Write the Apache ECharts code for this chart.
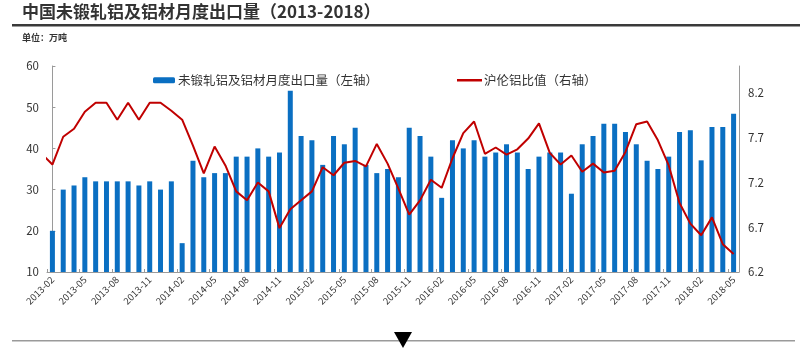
<!DOCTYPE html>
<html>
<head>
<meta charset="utf-8">
<script src="https://cdn.jsdelivr.net/npm/echarts@6/dist/echarts.min.js"></script>
<style>
  html, body { margin: 0; padding: 0; background: #fff; }
  #chart { width: 800px; height: 352px; }
</style>
</head>
<body>
<div id="chart"></div>
<script>
// 月份 2013-02 ~ 2018-05
const months = [
  '2013-02', '2013-03', '2013-04', '2013-05', '2013-06', '2013-07', '2013-08', '2013-09', '2013-10', '2013-11', '2013-12',
  '2014-01', '2014-02', '2014-03', '2014-04', '2014-05', '2014-06', '2014-07', '2014-08', '2014-09', '2014-10', '2014-11', '2014-12',
  '2015-01', '2015-02', '2015-03', '2015-04', '2015-05', '2015-06', '2015-07', '2015-08', '2015-09', '2015-10', '2015-11', '2015-12',
  '2016-01', '2016-02', '2016-03', '2016-04', '2016-05', '2016-06', '2016-07', '2016-08', '2016-09', '2016-10', '2016-11', '2016-12',
  '2017-01', '2017-02', '2017-03', '2017-04', '2017-05', '2017-06', '2017-07', '2017-08', '2017-09', '2017-10', '2017-11', '2017-12',
  '2018-01', '2018-02', '2018-03', '2018-04', '2018-05'
]
// 出口量（万吨，左轴）
const exportVolume = [
  20, 30, 31, 33, 32, 32, 32, 32, 31, 32, 30,
  32, 17, 37, 33, 34, 34, 38, 38, 40, 38, 39, 54,
  43, 42, 36, 43, 41, 45, 36, 34, 35, 33, 45, 43,
  38, 28, 42, 40, 42, 38, 39, 41, 39, 35, 38, 39,
  39, 29, 41, 43, 46, 46, 44, 41, 37, 35, 38, 44,
  44.4, 37.1, 45.2, 45.2, 48.4
]
// 沪伦铝比值（右轴），首个值为 2013-01，仅露出一小段
const ratioStart = 7.52
const ratio = [
  7.40, 7.71, 7.80, 7.99, 8.09, 8.09, 7.90, 8.09, 7.90, 8.09, 8.09,
  8.00, 7.90, 7.61, 7.30, 7.60, 7.39, 7.10, 7.00, 7.20, 7.10, 6.69, 6.90,
  7.00, 7.10, 7.37, 7.28, 7.42, 7.44, 7.38, 7.63, 7.41, 7.13, 6.84, 7.00,
  7.23, 7.14, 7.47, 7.75, 7.88, 7.52, 7.59, 7.51, 7.57, 7.69, 7.86, 7.53,
  7.40, 7.50, 7.32, 7.41, 7.31, 7.33, 7.54, 7.85, 7.88, 7.67, 7.39, 6.97,
  6.74, 6.61, 6.81, 6.51, 6.40
]
const leftTicks = { min: 10, max: 60, interval: 10 }
const rightTicks = { min: 6.2, max: 8.5, interval: 0.5 }

const FONT = '"Noto Sans CJK SC", "Microsoft YaHei", sans-serif'
const BLUE = '#0a6fc2'
const RED = '#c00000'

const lineData = [[-1, ratioStart]].concat(ratio.map((v, i) => [i, v]))

const myChart = echarts.init(document.getElementById('chart'))
const option = {
  animation: false,
  textStyle: { fontFamily: FONT },
  graphic: [
    {
      type: 'text', left: 22, top: 3,
      style: { text: '中国未锻轧铝及铝材月度出口量（2013-2018）', fontSize: 17, fontWeight: 'bold', fill: '#333', fontFamily: FONT }
    },
    { type: 'rect', shape: { x: 12, y: 24, width: 788, height: 2.5 }, style: { fill: '#3a3a3a' } },
    {
      type: 'text', left: 22, top: 33,
      style: { text: '单位：万吨', fontSize: 9, fontWeight: 'bold', fill: '#333', fontFamily: FONT }
    },
    { type: 'rect', shape: { x: 12, y: 340, width: 783, height: 1.5 }, style: { fill: '#9a9a9a' } },
    { type: 'polygon', shape: { points: [[394, 332], [412, 332], [403, 348]] }, style: { fill: '#000' } }
  ],
  legend: [
    {
      data: ['未锻轧铝及铝材月度出口量（左轴）'],
      left: 148, top: 69,
      itemWidth: 22, itemHeight: 6,
      textStyle: { fontSize: 12.5, color: '#333', fontFamily: FONT, padding: [0, 0, 0, -2] }
    },
    {
      data: [{ name: '沪伦铝比值（右轴）', icon: 'rect' }],
      left: 452, top: 69,
      itemWidth: 25, itemHeight: 2.5,
      textStyle: { fontSize: 12.5, color: '#333', fontFamily: FONT, padding: [0, 0, 0, -3] }
    }
  ],
  grid: { left: 47, right: 61, top: 66, bottom: 80 },
  xAxis: [
    {
      type: 'category',
      data: months,
      boundaryGap: true,
      axisLine: { lineStyle: { color: '#9a9a9a' } },
      axisTick: { show: true, interval: 2, length: 3, inside: true, lineStyle: { color: '#9a9a9a' } },
      axisLabel: { interval: 2, rotate: 45, fontSize: 9.5, color: '#333', margin: 6, fontFamily: FONT }
    },
    {
      type: 'value',
      min: -0.5,
      max: months.length - 0.5,
      show: false
    }
  ],
  yAxis: [
    {
      type: 'value',
      min: leftTicks.min, max: leftTicks.max, interval: leftTicks.interval,
      axisLine: { show: true, lineStyle: { color: '#9a9a9a' } },
      axisTick: { show: true, inside: true, length: 3, lineStyle: { color: '#9a9a9a' } },
      splitLine: { show: false },
      axisLabel: { fontSize: 11.5, color: '#333', margin: 8, fontFamily: FONT }
    },
    {
      type: 'value',
      min: rightTicks.min, max: rightTicks.max, interval: rightTicks.interval,
      axisLine: { show: true, lineStyle: { color: '#9a9a9a' } },
      axisTick: { show: false },
      splitLine: { show: false },
      axisLabel: {
        fontSize: 11.5, color: '#333', margin: 9, fontFamily: FONT,
        showMaxLabel: false,
        formatter: v => v.toFixed(1)
      }
    }
  ],
  series: [
    {
      name: '未锻轧铝及铝材月度出口量（左轴）',
      type: 'bar',
      data: exportVolume,
      xAxisIndex: 0,
      yAxisIndex: 0,
      barWidth: 5,
      itemStyle: { color: BLUE }
    },
    {
      name: '沪伦铝比值（右轴）',
      type: 'line',
      data: lineData,
      xAxisIndex: 1,
      yAxisIndex: 1,
      symbol: 'none',
      clip: true,
      lineStyle: { color: RED, width: 2 },
      itemStyle: { color: RED }
    }
  ]
}
myChart.setOption(option, true)
</script>
</body>
</html>
